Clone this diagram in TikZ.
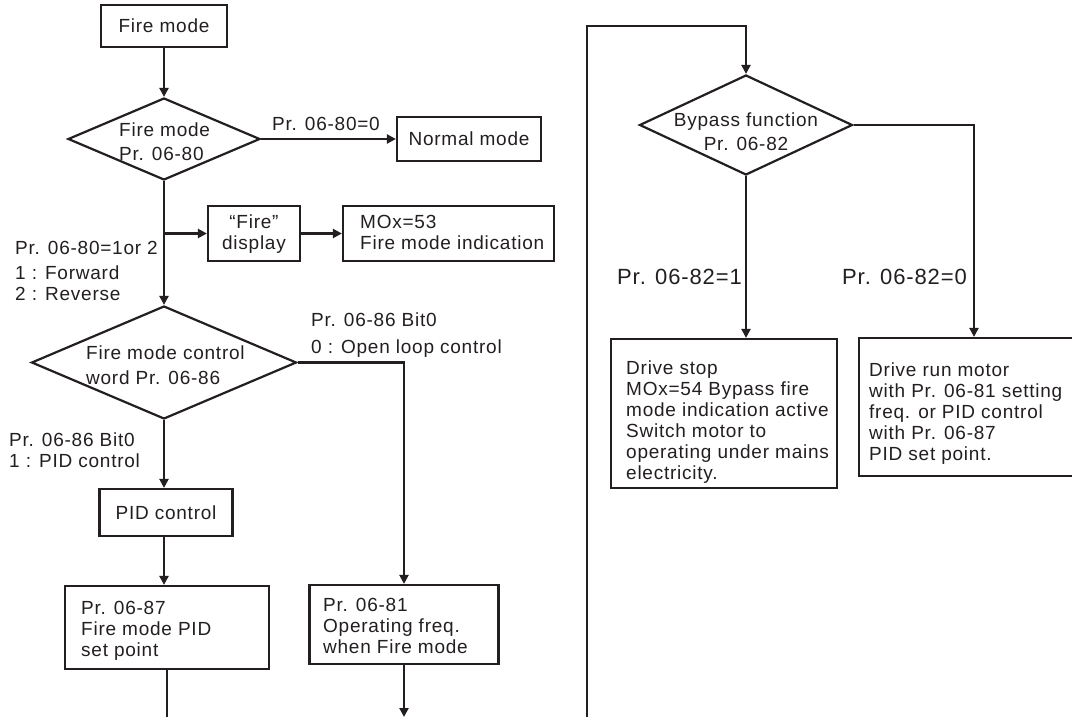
\documentclass[tikz,border=0pt]{standalone}
\usepackage{fontspec}
\setmainfont[LetterSpace=4]{Liberation Sans}
\usetikzlibrary{arrows.meta,shapes.geometric}
\definecolor{ink}{RGB}{35,31,32}
\newcommand\myfs{\fontsize{19}{21}\selectfont}
\newcommand\mybig{\fontsize{22}{24}\selectfont}
\tikzset{
  box/.style={draw=ink, line width=2.2pt, inner sep=0pt, text=ink, font=\myfs},
  dia/.style={diamond, draw=ink, line width=2.2pt, inner sep=0pt},
  txt/.style={inner sep=0pt, text=ink, font=\myfs, align=left, anchor=base west},
  ctxt/.style={inner sep=0pt, text=ink, font=\myfs, align=center, anchor=base},
  ln/.style={draw=ink, line width=2.2pt},
  arr/.style={ln, -{Triangle[length=9pt,width=9pt]}}
}
\begin{document}
\begin{tikzpicture}[x=1pt,y=-1pt]
\useasboundingbox (0,0) rectangle (1072,717);
\clip (0,0) rectangle (1072,717);
\fill[white] (0,0) rectangle (1072,717);
% left column
\node[box, minimum width=126pt, minimum height=42pt] (fire) at (164,26) {Fire mode};
\node[dia, minimum width=192pt, minimum height=82pt] (d1) at (164,139) {};
\node[txt] (d1t) at (119,160) {Fire mode\\[3pt]Pr. 06-80};
\draw[arr] (fire.south) -- (d1.north);
\node[box, minimum width=144pt, minimum height=44pt] (normal) at (469,139) {Normal mode};
\draw[arr] (d1.east) -- (normal.west);
\node[txt] (l0) at (272,131) {Pr. 06-80=0};
\node[box, minimum width=92pt, minimum height=55pt] (disp) at (254,233.5) {};
\node[ctxt] (dispt) at (254,249) {“Fire”\\display};
\node[box, minimum width=211pt, minimum height=55pt] (mox) at (448.5,233.5) {};
\node[txt] (moxt) at (360,249) {MOx=53\\Fire mode indication};
\coordinate (br1) at (164,233.5);
\draw[arr] (br1) -- (disp.west);
\draw[arr] (disp.east) -- (mox.west);
\node[dia, minimum width=265pt, minimum height=113pt] (d2) at (164,362.5) {};
\draw[arr] (d1.south) -- (d2.north);
\node[txt] (d2t) at (86,384) {Fire mode control\\[4pt]word Pr. 06-86};
\node[txt] (l1) at (15,254) {Pr. 06-80=1or 2};
\node[txt] (l2) at (15,300) {1 : Forward\\2 : Reverse};
\node[txt] (l3) at (311,353) {Pr. 06-86 Bit0\\[6pt]0 : Open loop control};
\node[txt] (l4) at (9,467) {Pr. 06-86 Bit0\\1 : PID control};
\node[box, minimum width=133pt, minimum height=47pt] (pid) at (166,512.5) {PID control};
\draw[arr] (d2.south) -- (d2.south |- pid.north);
\node[box, minimum width=204pt, minimum height=83pt] (pr87) at (167,627.5) {};
\draw[arr] (d2.south |- pid.south) -- (d2.south |- pr87.north);
\node[txt] (pr87t) at (81,656) {Pr. 06-87\\Fire mode PID\\set point};
\coordinate (e1) at (167,717);
\draw[ln] (pr87.south) -- (e1);
\node[box, minimum width=189pt, minimum height=79pt] (pr81) at (404,624.5) {};
\node[txt] (pr81t) at (323,653) {Pr. 06-81\\Operating freq.\\when Fire mode};
\draw[arr] (d2.east) -| (pr81.north);
\coordinate (e2) at (404,717);
\draw[arr] (pr81.south) -- (e2);
% right column
\node[dia, minimum width=213pt, minimum height=100pt] (d3) at (746,125) {};
\node[ctxt] (d3t) at (746,150) {Bypass function\\[3pt]Pr. 06-82};
\coordinate (s1) at (587,717);
\coordinate (s2) at (746,26);
\draw[arr] (s1) |- (s2) -- (d3.north);
\node[box, minimum width=226pt, minimum height=149pt] (bl) at (724,413.5) {};
\draw[arr] (d3.south) -- (d3.south |- bl.north);
\node[txt] (blt) at (626,479) {Drive stop\\MOx=54 Bypass fire\\mode indication active\\Switch motor to\\operating under mains\\electricity.};
\node[box, minimum width=230pt, minimum height=138pt] (br) at (974,407) {};
\draw[arr] (d3.east) -| (br.north);
\node[txt] (brt) at (869,460) {Drive run motor\\with Pr. 06-81 setting\\freq. or PID control\\with Pr. 06-87\\PID set point.};
\node[txt, font=\mybig] (l5) at (617,284) {Pr. 06-82=1};
\node[txt, font=\mybig] (l6) at (842,284) {Pr. 06-82=0};
\end{tikzpicture}
\end{document}
